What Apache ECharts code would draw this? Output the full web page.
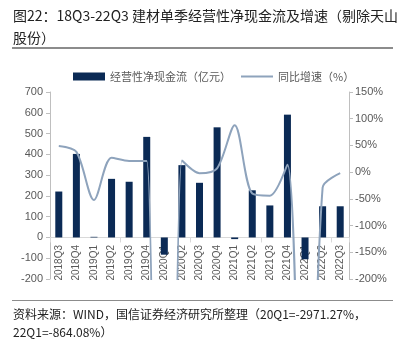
<!DOCTYPE html>
<html><head><meta charset="utf-8">
<script src="https://cdn.jsdelivr.net/npm/echarts@6/dist/echarts.min.js"></script>
<style>html,body{margin:0;padding:0;background:#fff;}#c{width:405px;height:341px;}</style>
</head><body><div id="c"></div>
<script>
var categories = ['2018Q3','2018Q4','2019Q1','2019Q2','2019Q3','2019Q4','2020Q1','2020Q2','2020Q3','2020Q4','2021Q1','2021Q2','2021Q3','2021Q4','2022Q1','2022Q2','2022Q3'];
var cashFlow = [221, 402, 3, 282, 268, 484, -83, 348, 263, 530, -8, 227, 154, 591, -105, 150, 150];
var growth = [49, 38, -52, 27, 21, 21, -2971.27, 22, -2, 7, 88, -40, -44, 14, -864.08, -29, -2];
var leftTicks = {min: -200, max: 700, interval: 100};
var rightTicks = {min: -200, max: 150, interval: 50};

var chart = echarts.init(document.getElementById('c'), null, {renderer: 'canvas'});
var font = '"Noto Sans CJK SC", sans-serif';
var numFont = '"Liberation Sans", "Noto Sans CJK SC", sans-serif';
chart.setOption({
  animation: false,
  textStyle: {fontFamily: font},
  graphic: [
    {type: 'text', left: 13, top: 5, style: {text: '图22：18Q3-22Q3 建材单季经营性净现金流及增速（剔除天山\n股份）', font: '14px ' + font, fill: '#222', lineHeight: 22}},
    {type: 'rect', shape: {x: 12, y: 47, width: 381, height: 2}, style: {fill: '#8c8c8c'}},
    {type: 'rect', shape: {x: 12, y: 300, width: 381, height: 1}, style: {fill: '#8c8c8c'}},
    {type: 'text', left: 13, top: 305, style: {text: '资料来源：WIND，国信证券经济研究所整理（20Q1=-2971.27%，\n22Q1=-864.08%）', font: '12px ' + font, fill: '#222', lineHeight: 18}}
  ],
  legend: {
    top: 66, left: 68,
    itemWidth: 32, itemHeight: 8, itemGap: 10,
    textStyle: {fontSize: 11, color: '#595959', fontFamily: font},
    data: [
      {name: '经营性净现金流（亿元）', icon: 'rect'},
      {name: '同比增速（%）', icon: 'path://M0,0 L32,0 L32,2 L0,2 Z'}
    ]
  },
  grid: {left: 50, right: 56, top: 92, bottom: 62, containLabel: false},
  xAxis: [
    {type: 'category', data: categories,
     axisLine: {onZero: true, lineStyle: {color: '#d9d9d9'}},
     axisTick: {show: true, alignWithLabel: false, lineStyle: {color: '#d9d9d9'}},
     axisLabel: {show: false}},
    {type: 'category', data: categories, position: 'bottom',
     axisLine: {show: false, onZero: false},
     axisTick: {show: false},
     axisLabel: {rotate: 90, fontSize: 10, color: '#595959', margin: -34, interval: 0, fontFamily: numFont}}
  ],
  yAxis: [
    {type: 'value', min: leftTicks.min, max: leftTicks.max, interval: leftTicks.interval,
     splitLine: {show: false},
     axisLine: {show: true, lineStyle: {color: '#bfbfbf'}},
     axisTick: {show: true, length: 4, lineStyle: {color: '#bfbfbf'}},
     axisLabel: {fontSize: 11, color: '#595959', margin: 7, fontFamily: numFont}},
    {type: 'value', min: rightTicks.min, max: rightTicks.max, interval: rightTicks.interval,
     position: 'right',
     splitLine: {show: false},
     axisLine: {show: true, lineStyle: {color: '#bfbfbf'}},
     axisTick: {show: true, length: 4, lineStyle: {color: '#bfbfbf'}},
     axisLabel: {fontSize: 11, color: '#595959', margin: 6, formatter: '{value}%', fontFamily: numFont}}
  ],
  series: [
    {name: '经营性净现金流（亿元）', type: 'bar', data: cashFlow, barWidth: 7,
     itemStyle: {color: '#0b2a55'}},
    {name: '同比增速（%）', type: 'line', yAxisIndex: 1, data: growth,
     smooth: 0.3, showSymbol: false, symbol: 'none', clip: true,
     lineStyle: {color: '#8ea3bc', width: 2}, itemStyle: {color: '#8ea3bc'}}
  ]
});
</script></body></html>
